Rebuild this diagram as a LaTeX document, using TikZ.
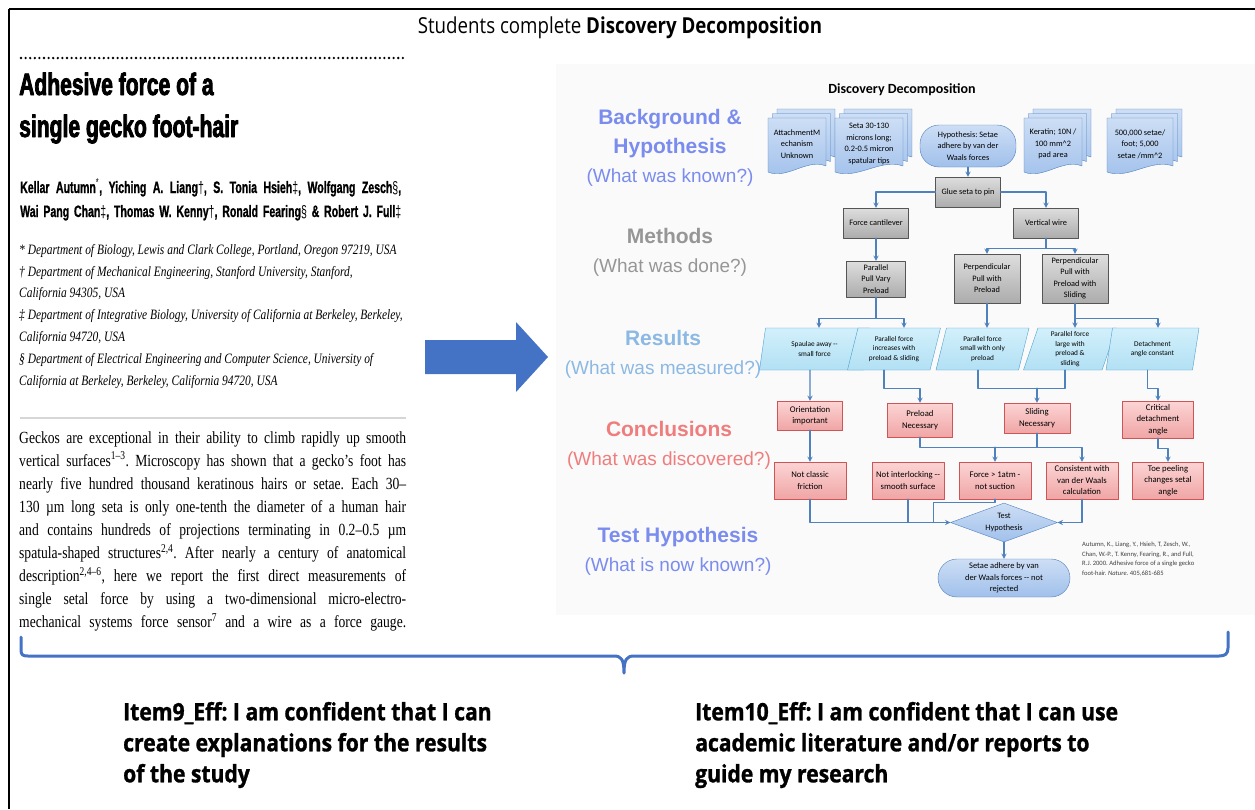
\documentclass[tikz,border=0pt]{standalone}
\usepackage{fontspec}
\setmainfont{Liberation Serif}
\newfontfamily\paperserif{Liberation Serif}[FakeStretch=0.8]
\newfontfamily\paperhead{Liberation Sans}[FakeStretch=0.68, BoldFeatures={FakeBold=2.5}]
\newfontfamily\authfont{Liberation Sans}[FakeStretch=0.64, BoldFeatures={FakeBold=1}]
\newfontfamily\slidefont{Liberation Sans}
\newfontfamily\chartfont{Carlito}
\newfontfamily\condsans{Open Sans}[FakeStretch=0.85]
\newfontfamily\itemfont{Open Sans}[FakeStretch=0.88, BoldFeatures={FakeBold=1.2}]
\usetikzlibrary{positioning,shapes.geometric}

\definecolor{linkblue}{RGB}{79,129,189}
\definecolor{arrowblue}{RGB}{68,114,196}
\definecolor{doctop}{RGB}{205,222,245}
\definecolor{docbot}{RGB}{160,192,235}
\definecolor{docline}{RGB}{79,129,189}
\definecolor{methtop}{RGB}{222,222,222}
\definecolor{methbot}{RGB}{172,172,172}
\definecolor{methline}{RGB}{85,85,85}
\definecolor{restop}{RGB}{210,240,251}
\definecolor{resbot}{RGB}{178,224,244}
\definecolor{resline}{RGB}{80,160,205}
\definecolor{contop}{RGB}{252,212,212}
\definecolor{conbot}{RGB}{240,165,165}
\definecolor{conline}{RGB}{205,85,85}
\definecolor{hypblue}{RGB}{122,140,238}
\definecolor{methgray}{RGB}{150,150,150}
\definecolor{resblue}{RGB}{140,185,228}
\definecolor{consalmon}{RGB}{240,125,125}
\definecolor{slidebg}{RGB}{250,250,250}

\newcommand{\sublabel}{\mdseries\fontsize{19}{29}\selectfont}

% stacked document: name, x, y, half width, text
\newcommand{\stackdoc}[5]{%
  \foreach \lay in {9,4.5,0}{%
    \draw[draw=docline, top color=doctop, bottom color=docbot]
      (#2-#4+\lay,#3-27-\lay) -- (#2+#4+\lay,#3-27-\lay)
      -- (#2+#4+\lay,#3+21-\lay)
      .. controls (#2+0.35*#4+\lay,#3+13-\lay) and (#2-0.35*#4+\lay,#3+35-\lay)
      .. (#2-#4+\lay,#3+27-\lay) -- cycle;
  }
  \node[doctext] (#1) at (#2,#3-1) {#5};
}

\begin{document}
\frenchspacing
\begin{tikzpicture}[x=1pt, y=-1pt, >=stealth, line cap=round, line join=round,
  chart/.style={font=\chartfont\fontsize{8.3}{11.5}\selectfont, align=center, inner sep=0pt},
  doctext/.style={chart},
  hypbox/.style={chart, draw=docline, top color=doctop, bottom color=docbot, rounded corners=19pt},
  methbox/.style={chart, draw=methline, top color=methtop, bottom color=methbot,
                  minimum width=65pt, minimum height=30pt},
  resbox/.style={chart, font=\chartfont\fontsize{7.3}{9.8}\selectfont,
                 trapezium, trapezium left angle=68, trapezium right angle=112,
                 trapezium stretches body, draw=resline, top color=restop, bottom color=resbot,
                 minimum width=93pt, minimum height=42pt},
  conbox/.style={chart, font=\chartfont\fontsize{8.7}{11.5}\selectfont,
                 draw=conline, top color=contop, bottom color=conbot,
                 minimum width=72pt, minimum height=37pt},
  testbox/.style={chart, diamond, aspect=2.7, draw=docline, top color=doctop, bottom color=docbot,
                  minimum width=107pt, minimum height=39pt},
  flow/.style={->, draw=linkblue, line width=1.3pt},
  link/.style={draw=linkblue, line width=1.3pt},
  lab/.style={font=\slidefont\bfseries\fontsize{21}{29}\selectfont, align=center, inner sep=0pt},
  item/.style={font=\itemfont\bfseries\fontsize{24}{31}\selectfont, align=left, inner sep=0pt, anchor=west}]

  \useasboundingbox (0,0) rectangle (1255,809);

  % ── frame and heading ────────────────────────────────────────────────────

  \fill[slidebg] (556,64) rectangle (1255,615);
  \draw[line width=2.5pt, line cap=butt] (9,9) -- (1255,9);
  \draw[line width=2.5pt, line cap=butt] (9,9) -- (9,809);

  \node[font=\condsans\fontsize{22}{25}\selectfont, inner sep=0pt] (heading) at (620,28)
    {Students complete \textbf{Discovery Decomposition}};

  % ── paper excerpt ─────────────────────────────────────────────────────────

  \draw[line width=2.6pt, dash pattern=on 0pt off 4.6pt] (21,58) -- (405,58);

  \node[anchor=base west, inner sep=0pt, font=\paperhead\bfseries\fontsize{31}{36}\selectfont]
    (title1) at (19,95) {Adhesive force of a};
  \node[anchor=base west, inner sep=0pt, font=\paperhead\bfseries\fontsize{31}{36}\selectfont]
    (title2) at (19,137) {single gecko foot-hair};

  \node[anchor=base west, inner sep=0pt, font=\authfont\bfseries\fontsize{16.5}{20}\selectfont]
    (auth1) at (20,193) {\makebox[381pt][s]{Kellar Autumn{\mdseries\textsuperscript{*}}, Yiching A. Liang{\mdseries †}, S. Tonia Hsieh{\mdseries ‡}, Wolfgang Zesch{\mdseries §},}};
  \node[anchor=base west, inner sep=0pt, font=\authfont\bfseries\fontsize{16.5}{20}\selectfont]
    (auth2) at (20,217) {\makebox[381pt][s]{Wai Pang Chan{\mdseries ‡}, Thomas W. Kenny{\mdseries †}, Ronald Fearing{\mdseries §} \& Robert J. Full{\mdseries ‡}}};

  \node[anchor=north west, align=left, inner sep=0pt,
        font=\paperserif\itshape\fontsize{14.3}{21.8}\selectfont] (affil) at (19,244)
    {* Department of Biology, Lewis and Clark College, Portland, Oregon 97219, USA\\
     † Department of Mechanical Engineering, Stanford University, Stanford,\\
     California 94305, USA\\
     ‡ Department of Integrative Biology, University of California at Berkeley, Berkeley,\\
     California 94720, USA\\
     § Department of Electrical Engineering and Computer Science, University of\\
     California at Berkeley, Berkeley, California 94720, USA};

  \draw[line width=1.1pt, dash pattern=on 0pt off 2pt, black!70] (21,418) -- (405,418);

  \node[anchor=north west, align=left, inner sep=0pt,
        font=\paperserif\fontsize{17}{23.1}\selectfont] (body) at (19,431)
    {\makebox[387pt][s]{Geckos are exceptional in their ability to climb rapidly up smooth}\\
     \makebox[387pt][s]{vertical surfaces\textsuperscript{1–3}. Microscopy has shown that a gecko’s foot has}\\
     \makebox[387pt][s]{nearly five hundred thousand keratinous hairs or setae. Each 30–}\\
     \makebox[387pt][s]{130 µm long seta is only one-tenth the diameter of a human hair}\\
     \makebox[387pt][s]{and contains hundreds of projections terminating in 0.2–0.5 µm}\\
     \makebox[387pt][s]{spatula-shaped structures\textsuperscript{2,4}. After nearly a century of anatomical}\\
     \makebox[387pt][s]{description\textsuperscript{2,4–6}, here we report the first direct measurements of}\\
     \makebox[387pt][s]{single setal force by using a two-dimensional micro-electro-}\\
     \makebox[387pt][s]{mechanical systems force sensor\textsuperscript{7} and a wire as a force gauge.}};

  % big arrow
  \fill[arrowblue] (425,340) -- (516,340) -- (516,322) -- (548,357) -- (516,392)
    -- (516,374) -- (425,374) -- cycle;

  % ── row labels ────────────────────────────────────────────────────────────

  \node[lab, text=hypblue] (lblbg) at (670,148)
    {Background \&\\Hypothesis\\\sublabel(What was known?)};
  \node[lab, text=methgray] (lblmeth) at (670,252)
    {Methods\\\sublabel(What was done?)};
  \node[lab, text=resblue] (lblres) at (663,354)
    {Results\\\sublabel(What was measured?)};
  \node[lab, text=consalmon] (lblcon) at (669,445)
    {Conclusions\\\sublabel(What was discovered?)};
  \node[lab, text=hypblue] (lbltest) at (678,551)
    {Test Hypothesis\\\sublabel(What is now known?)};

  % ── background & hypothesis ───────────────────────────────────────────────

  \node[font=\chartfont\bfseries\fontsize{14}{17}\selectfont, inner sep=0pt] (ddtitle) at (902,90)
    {Discovery Decomposition};

  \stackdoc{docattach}{797}{145}{29}{AttachmentM\\echanism\\Unknown}
  \stackdoc{docseta}{869}{145}{34}{Seta 30-130\\microns long;\\0.2-0.5 micron\\spatular tips}
  \stackdoc{dockeratin}{1053}{145}{29}{Keratin; 10N /\\100 mm\textasciicircum 2\\pad area}
  \stackdoc{docsetae}{1140}{145}{33}{500,000 setae/\\foot; 5,000\\setae /mm\textasciicircum 2}

  \node[hypbox, minimum width=96pt, minimum height=42pt] (hyp) at (968,146)
    {Hypothesis: Setae\\adhere by van der\\Waals forces};

  % ── methods ───────────────────────────────────────────────────────────────

  \node[methbox] (glue) at (968,192) {Glue seta to pin};
  \node[methbox] (cant) at (876,223) {Force cantilever};
  \node[methbox] (wire) at (1046,223) {Vertical wire};
  \node[methbox, minimum width=59pt, minimum height=36pt] (ppull) at (876,279)
    {Parallel\\Pull Vary\\Preload};
  \node[methbox, minimum width=66pt, minimum height=49pt] (perp1) at (987,278.5)
    {Perpendicular\\Pull with\\Preload};
  \node[methbox, minimum width=66pt, minimum height=49pt] (perp2) at (1075,278.5)
    {Perpendicular\\Pull with\\Preload with\\Sliding};

  % ── results ───────────────────────────────────────────────────────────────

  \node[resbox, minimum width=110pt] (r1) at (814.5,349) {Spaulae away --\\small force};
  \node[resbox] (r2) at (894,349) {Parallel force\\increases with\\preload \& sliding};
  \node[resbox] (r3) at (982.5,349) {Parallel force\\small with only\\preload};
  \node[resbox] (r4) at (1070,349) {Parallel force\\large with\\preload \&\\sliding};
  \node[resbox] (r5) at (1152.5,349) {Detachment\\angle constant};

  % ── conclusions ───────────────────────────────────────────────────────────

  \node[conbox, minimum width=65pt, minimum height=29pt] (c1) at (810,415.5) {Orientation\\important};
  \node[conbox, minimum width=65pt, minimum height=34pt] (c2) at (920,420) {Preload\\Necessary};
  \node[conbox, minimum width=66pt, minimum height=30pt] (c3) at (1037,418) {Sliding\\Necessary};
  \node[conbox, minimum width=71pt] (c4) at (1158,419.5) {Critical\\detachment\\angle};

  \node[conbox] (d1) at (810,480.5) {Not classic\\friction};
  \node[conbox] (d2) at (908,480.5) {Not interlocking --\\smooth surface};
  \node[conbox] (d3) at (995,480.5) {Force > 1atm -\\not suction};
  \node[conbox] (d4) at (1082,480.5) {Consistent with\\van der Waals\\calculation};
  \node[conbox, minimum width=71pt] (d5) at (1168,480.5) {Toe peeling\\changes setal\\angle};

  % ── test hypothesis ───────────────────────────────────────────────────────

  \node[testbox] (test) at (1004,522.5) {Test\\Hypothesis};
  \node[hypbox, font=\chartfont\fontsize{8.5}{11.5}\selectfont,
        minimum width=132pt, minimum height=38pt] (final) at (1004,578)
    {Setae adhere by van\\der Waals forces -- not\\rejected};

  \node[anchor=north west, align=left, inner sep=0pt, text=black!75,
        font=\chartfont\fontsize{6.6}{9.6}\selectfont] (cite) at (1082,542)
    {Autumn, K., Liang, Y., Hsieh, T, Zesch, W.,\\
     Chan, W.-P., T. Kenny, Fearing, R., and Full,\\
     R.J. 2000. Adhesive force of a single gecko\\
     foot-hair. \textit{Nature}. 405,681-685};

  % ── connectors ────────────────────────────────────────────────────────────

  \draw[flow] (hyp.south) -- (glue.north);
  \draw[flow] (glue.west) -| (cant.north);
  \draw[flow] (glue.east) -| (wire.north);
  \draw[flow] (cant.south) -- (ppull.north);
  \draw[link] (wire.south) -- ++(0,10) coordinate (wj);
  \draw[flow] (wj) -| (perp1.north);
  \draw[flow] (wj) -| (perp2.north);

  \draw[link] (ppull.south) -- ++(0,21) coordinate (pj);
  \draw[flow] (pj) -| ([xshift=4.5pt]r1.north);
  \draw[flow] (pj) -| ([xshift=10pt]r2.north);
  \draw[flow] (perp1.south) -- (perp1.south |- r3.north);
  \draw[link] (perp2.south) -- ++(0,15) coordinate (qj);
  \draw[flow] (qj) -| ([xshift=5pt]r4.north);
  \draw[flow] (qj) -| ([xshift=5.5pt]r5.north);

  \draw[flow] ([xshift=-4.5pt]r1.south) -- (c1.north);
  \draw[flow] ([xshift=-10pt]r2.south) -- ++(0,18) -| (c2.north);
  \draw[link] ([xshift=-4.5pt]r3.south) -- ++(0,18) coordinate (sj) -| ([xshift=-5pt]r4.south);
  \draw[flow] (sj -| c3.north) -- (c3.north);
  \draw[flow] ([xshift=-5pt]r5.south) -- ++(0,18) -| (c4.north);

  \draw[flow] (c1.south) -- (d1.north);
  \draw[flow] (c2.south) -- ++(0,10) coordinate (cj) -| (d4.north);
  \draw[link] (c3.south) -- (c3.south |- cj);
  \draw[flow] (cj -| d3.north) -- (d3.north);
  \draw[flow] (c4.south) -- ++(0,10) -| (d5.north);

  \draw[flow] (d1.south) |- (test.west);
  \draw[link] (d2.south) -- (d2.south |- test.west);
  \draw[link] (d3.south) -- ++(0,3) -| ([xshift=-17pt]test.west);
  \draw[flow] (d4.south) |- (test.east);
  \draw[flow] (test.south) -- (final.north);

  % ── brace and survey items ────────────────────────────────────────────────

  \draw[arrowblue, line width=3pt] (21,637) -- (21,650) .. controls (21,655) and (23,656) .. (28,656)
    -- (614,656) .. controls (621,656) and (624,659) .. (624,673)
    .. controls (624,659) and (627,656) .. (634,656)
    -- (1219,656) .. controls (1225,656) and (1228,654) .. (1228,648) -- (1228,632);

  \node[item] (item9) at (123,745)
    {Item9\_Eff: I am confident that I can\\create explanations for the results\\of the study};
  \node[item] (item10) at (695,745)
    {Item10\_Eff: I am confident that I can use\\academic literature and/or reports to\\guide my research};

\end{tikzpicture}
\end{document}
